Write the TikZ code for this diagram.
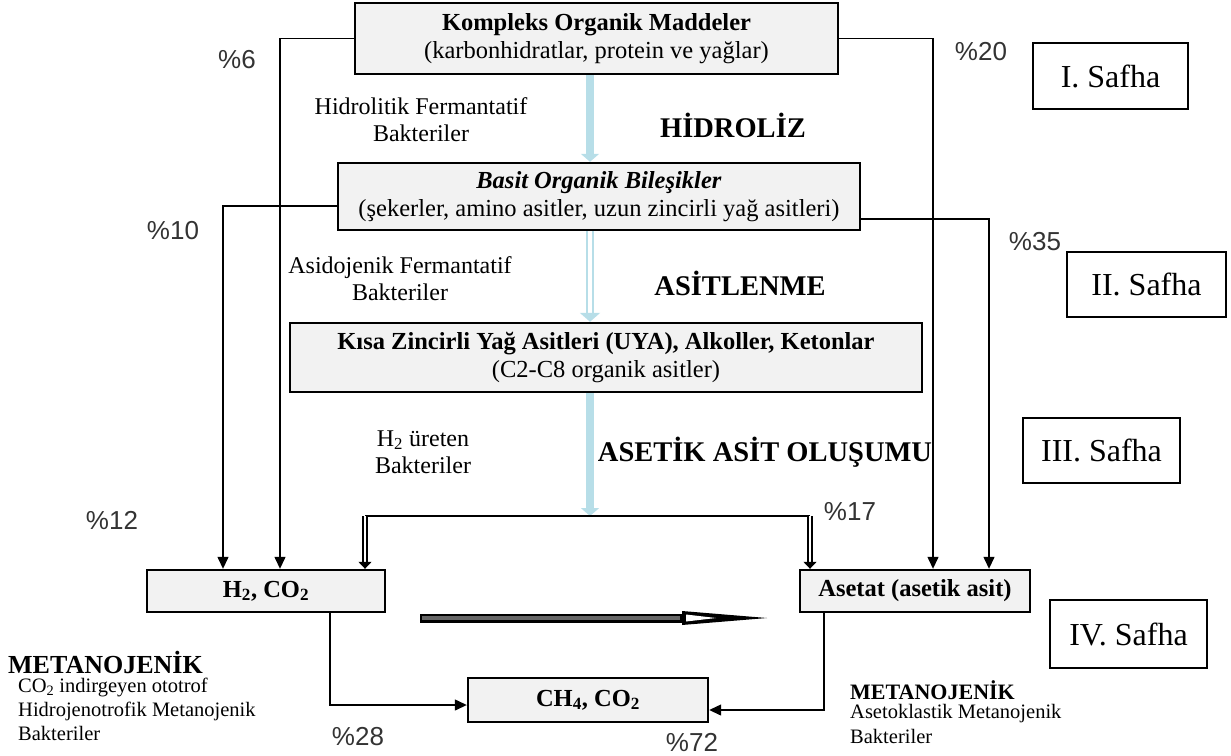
\documentclass[tikz,border=0pt]{standalone}
\usepackage{fontspec}
\setmainfont{Liberation Serif}
\newfontfamily\pctfont{Liberation Sans}
\usepackage{tikz}
\usetikzlibrary{arrows.meta, positioning, calc}
\usepackage{xcolor}
\definecolor{boxgray}{HTML}{F2F2F2}
\definecolor{flowblue}{HTML}{B7DEE8}

\begin{document}
\begin{tikzpicture}[
  x=1pt, y=-1pt,
  every node/.style={font=\fontsize{24}{27}\selectfont, inner sep=0pt},
  stagebox/.style={draw, line width=2.4pt, fill=boxgray, align=center, font=\fontsize{24.5}{28}\selectfont},
  safha/.style={draw, line width=1.3pt, fill=white, font=\fontsize{32}{36}\selectfont},
  pct/.style={font=\pctfont\fontsize{26}{28}\selectfont, text=black!80},
  proc/.style={font=\bfseries\fontsize{28.5}{32}\selectfont},
  bact/.style={align=center},
  flow/.style={line width=1.3pt, -{Triangle[length=12pt,width=11pt]}},
  dbl/.style={double, double distance=2.6pt, line width=1.3pt, -{Triangle[length=7pt,width=13pt]}},
  bluearrow/.style={line width=8pt, draw=flowblue, -{Triangle[length=8pt,width=18pt]}},
  bluehollow/.style={draw=flowblue, double=white, double distance=4pt, line width=2.2pt, -{Triangle[length=9pt,width=20pt]}},
]
\useasboundingbox (0,0) rectangle (1231,755);

% Stage boxes, top to bottom
\node[stagebox, minimum width=483pt, minimum height=71pt] (kom) at (596.5,38.5)
  {\textbf{Kompleks Organik Maddeler}\\(karbonhidratlar, protein ve yağlar)};
\node[stagebox, minimum width=522pt, minimum height=67pt] (bas) at (599,196.5)
  {\textbf{\textit{Basit Organik Bileşikler}}\\(şekerler, amino asitler, uzun zincirli yağ asitleri)};
\node[stagebox, minimum width=632pt, minimum height=69pt] (kisa) at (606,357.5)
  {\textbf{Kısa Zincirli Yağ Asitleri (UYA), Alkoller, Ketonlar}\\(C2-C8 organik asitler)};
\node[stagebox, minimum width=238pt, minimum height=42pt] (h2) at (266,591)
  {\textbf{H\textsubscript{2}, CO\textsubscript{2}}};
\node[stagebox, minimum width=230pt, minimum height=42pt] (aset) at (915,591)
  {\textbf{Asetat (asetik asit)}};
\node[stagebox, minimum width=240pt, minimum height=44pt] (ch4) at (588,700)
  {\textbf{CH\textsubscript{4}, CO\textsubscript{2}}};

% Phase boxes on the right
\node[safha, minimum width=155pt, minimum height=66pt, text depth=0pt] (s1) at (1110.5,76) {I. Safha\hspace{14pt}};
\node[safha, minimum width=159pt, minimum height=65pt] (s2) at (1146.5,284.5) {II. Safha};
\node[safha, minimum width=157pt, minimum height=65pt] (s3) at (1101.5,450.5) {III. Safha};
\node[safha, minimum width=157pt, minimum height=68pt] (s4) at (1128.5,634) {IV. Safha};

% Process names and bacteria
\node[bact] (hfb) at (421,120) {Hidrolitik Fermantatif\\Bakteriler};
\node[proc] (hid) at (733,125) {HİDROLİZ};
\node[bact] (afb) at (400,279) {Asidojenik Fermantatif\\Bakteriler};
\node[proc] (asit) at (740,283) {ASİTLENME};
\node[bact] (h2b) at (423,452) {H\textsubscript{2} üreten\\Bakteriler};
\node[proc] (aao) at (765,452) {ASETİK ASİT OLUŞUMU};

\node[anchor=west, font=\bfseries\fontsize{26}{28}\selectfont] (metl) at (8,662) {METANOJENİK};
\node[anchor=north west, align=left, font=\fontsize{20.5}{24}\selectfont] (hidl) at (18,678)
  {CO\textsubscript{2} indirgeyen ototrof\\Hidrojenotrofik Metanojenik\\Bakteriler};
\node[anchor=west, font=\bfseries\fontsize{22}{26}\selectfont] (metr) at (850,690) {METANOJENİK};
\node[anchor=north west, align=left, font=\fontsize{20.5}{25}\selectfont] (asetr) at (850,704)
  {Asetoklastik Metanojenik\\Bakteriler};

% Percentages
\node[pct] (p6) at (237,60) {\%6};
\node[pct] (p20) at (981,52) {\%20};
\node[pct] (p10) at (173,231) {\%10};
\node[pct] (p35) at (1035,242) {\%35};
\node[pct] (p12) at (112,520) {\%12};
\node[pct] (p17) at (850,512) {\%17};
\node[pct] (p28) at (358,737) {\%28};
\node[pct] (p72) at (692,742) {\%72};

% Side branches
\coordinate (k6) at (280,0);
\coordinate (k10) at (223,0);
\coordinate (k20) at (933,0);
\coordinate (k35) at (989,0);
\draw[flow] (kom.west) -| (h2.north -| k6);
\draw[flow] ([yshift=-9.5pt]bas.west) -| (h2.north -| k10);
\draw[flow] (kom.east) -| (aset.north -| k20);
\draw[flow] ([yshift=-22.5pt]bas.east) -| (aset.north -| k35);

% Main blue arrows
\coordinate (kx) at (590,0);
\coordinate (jl) at (365,516);
\coordinate (jr) at (810,516);
\draw[bluearrow] (kom.south -| kx) -- (bas.north -| kx);
\draw[bluehollow] (bas.south -| kx) -- (kisa.north -| kx);
\draw[bluearrow] (kisa.south -| kx) -- (jl -| kx);

% Split to H2 and acetate
\draw[line width=1.3pt] (jl) -- (jr);
\draw[dbl] (jl) -- (h2.north -| jl);
\draw[dbl] (jr) -- (aset.north -| jr);

% Big arrow between H2 and acetate
\coordinate (ba) at (420,618);
\coordinate (bm) at (682,618);
\coordinate (bb) at (767,618);
\draw[line width=9pt] (ba) -- (bm);
\draw[line width=3.5pt, black!60] ([xshift=2pt]ba) -- ([xshift=-2pt]bm);
\fill ([yshift=7pt]bm) -- (bb) -- ([yshift=-7pt]bm) -- cycle;
\fill[white] ([xshift=4pt,yshift=3.5pt]bm) -- ([xshift=34pt]bm) -- ([xshift=4pt,yshift=-3.5pt]bm) -- cycle;

% Methane
\coordinate (k28) at (330,0);
\coordinate (k72) at (824,0);
\draw[flow] (h2.south -| k28) |- ([yshift=-5pt]ch4.west);
\draw[flow] (aset.south -| k72) |- ([yshift=-10pt]ch4.east);
\end{tikzpicture}
\end{document}
